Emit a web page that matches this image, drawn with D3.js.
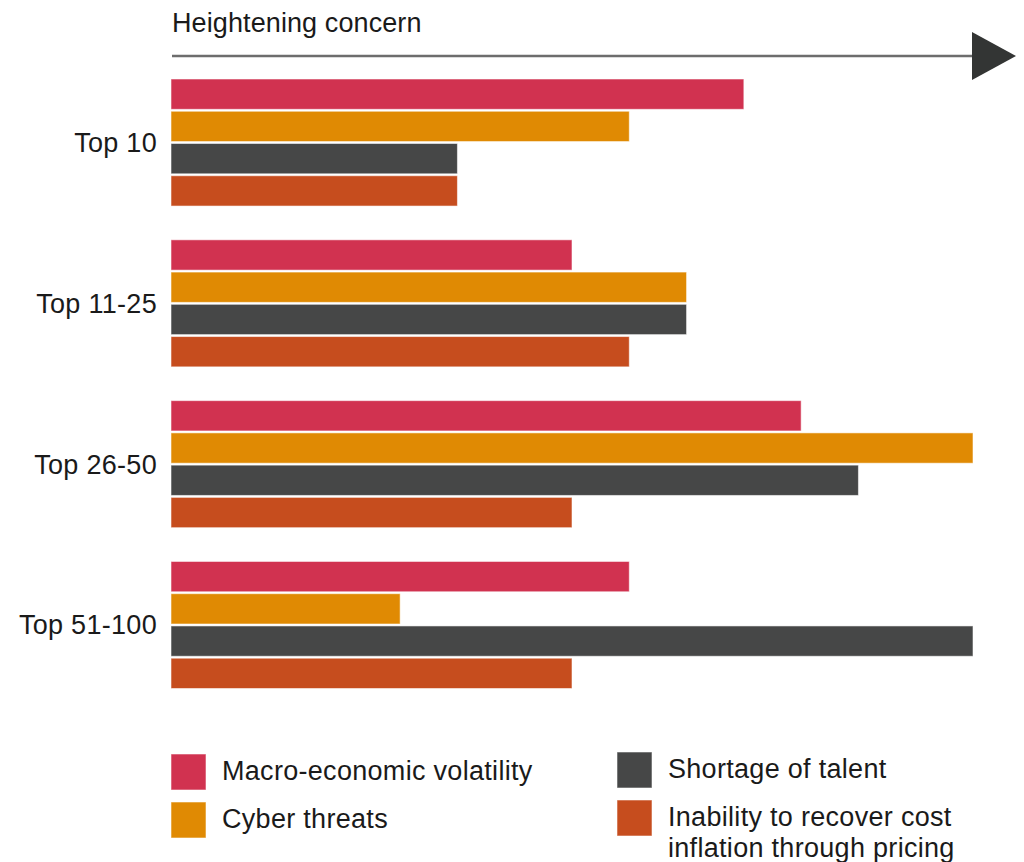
<!DOCTYPE html>
<html>
<head>
<meta charset="utf-8">
<script src="https://cdn.jsdelivr.net/npm/d3@7/dist/d3.min.js"></script>
<style>
  html, body { margin: 0; padding: 0; background: #fff; }
  svg { display: block; }
  text { font-family: "Liberation Sans", Arial, Helvetica, sans-serif; fill: #1a1a1a; }
</style>
</head>
<body>
<svg id="chart" width="1024" height="862"></svg>
<script>
// Company size bands (rows)
const categories = ["Top 10", "Top 11-25", "Top 26-50", "Top 51-100"];

// Concern ranking per band (higher = stronger concern)
const seriesNames = [
  "Macro-economic volatility",
  "Cyber threats",
  "Shortage of talent",
  "Inability to recover cost inflation through pricing"
];
const macroVolatility = [10, 7, 11, 8];
const cyberThreats    = [8, 9, 14, 4];
const talentShortage  = [5, 9, 12, 14];
const costInflation   = [5, 8, 7, 7];

const seriesColors = ["#d13250", "#e08a03", "#464747", "#c64d1e"];
const axisMax = 14;

const seriesValues = [macroVolatility, cyberThreats, talentShortage, costInflation];
const rows = categories.map((c, i) => ({
  category: c,
  values: seriesValues.map((vals, s) => ({ s, v: vals[i] }))
}));

const svg = d3.select("#chart");

const x = d3.scaleLinear().domain([0, axisMax]).range([171, 973]);

const yGroup = d3.scaleBand()
  .domain(categories)
  .range([79, 688.5])
  .paddingInner(0.21)
  .paddingOuter(0);

const yBar = d3.scaleBand()
  .domain(d3.range(seriesNames.length))
  .range([0, yGroup.bandwidth()])
  .paddingInner(0.06);

// Direction arrow and caption
svg.append("text")
  .attr("x", 172).attr("y", 32)
  .attr("font-size", 27)
  .attr("letter-spacing", 0.1)
  .text("Heightening concern");

svg.append("line")
  .attr("x1", 172).attr("x2", 976)
  .attr("y1", 56).attr("y2", 56)
  .attr("stroke", "#6d6d6d")
  .attr("stroke-width", 2.6);

svg.append("path")
  .attr("d", "M972,32 L1016,56 L972,80 Z")
  .attr("fill", "#333534");

// Grouped horizontal bars
const groups = svg.selectAll("g.row")
  .data(rows)
  .join("g")
  .attr("class", "row")
  .attr("transform", d => `translate(0,${yGroup(d.category)})`);

groups.selectAll("rect")
  .data(d => d.values)
  .join("rect")
  .attr("x", x(0))
  .attr("y", d => yBar(d.s))
  .attr("width", d => x(d.v) - x(0))
  .attr("height", yBar.bandwidth())
  .attr("fill", d => seriesColors[d.s])
  .attr("stroke", "rgba(255,255,255,0.55)")
  .attr("stroke-width", 1);

// Row labels, right aligned, centred on each group
svg.selectAll("text.rowlabel")
  .data(categories)
  .join("text")
  .attr("class", "rowlabel")
  .attr("x", 157)
  .attr("y", d => yGroup(d) + yGroup.bandwidth() / 2)
  .attr("dy", "0.35em")
  .attr("text-anchor", "end")
  .attr("font-size", 27)
  .attr("letter-spacing", 0.3)
  .text(d => d);

// Legend: two columns
const legendItems = [
  { s: 0, x: 171, y: 754, lines: ["Macro-economic volatility"] },
  { s: 1, x: 171, y: 802, lines: ["Cyber threats"] },
  { s: 2, x: 617, y: 752, lines: ["Shortage of talent"] },
  { s: 3, x: 617, y: 800, lines: ["Inability to recover cost", "inflation through pricing"] }
];

const legend = svg.selectAll("g.legend")
  .data(legendItems)
  .join("g")
  .attr("class", "legend")
  .attr("transform", d => `translate(${d.x},${d.y})`);

legend.append("rect")
  .attr("width", 35).attr("height", 36)
  .attr("fill", d => seriesColors[d.s])
  .attr("stroke", "rgba(255,255,255,0.55)")
  .attr("stroke-width", 1);

legend.append("text")
  .attr("x", 51)
  .attr("y", 25.5)
  .attr("font-size", 27)
  .attr("letter-spacing", 0.3)
  .selectAll("tspan")
  .data(d => d.lines)
  .join("tspan")
  .attr("x", 51)
  .attr("dy", (d, i) => i === 0 ? 0 : 31)
  .text(d => d);
</script>
</body>
</html>
